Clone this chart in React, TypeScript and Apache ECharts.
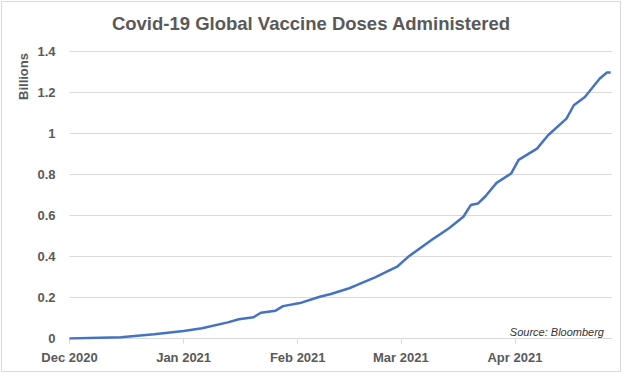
import React, { useEffect, useRef } from "react";
import * as echarts from "echarts";

const dates: string[] = [
  "2020-12-01", "2020-12-15", "2020-12-24", "2021-01-01", "2021-01-06",
  "2021-01-13", "2021-01-16", "2021-01-20", "2021-01-22", "2021-01-26",
  "2021-01-28", "2021-02-02", "2021-02-07", "2021-02-10", "2021-02-15",
  "2021-02-17", "2021-02-22", "2021-02-28", "2021-03-02", "2021-03-03",
  "2021-03-10", "2021-03-14", "2021-03-18", "2021-03-20", "2021-03-22",
  "2021-03-24", "2021-03-27", "2021-03-31", "2021-04-02", "2021-04-07",
  "2021-04-10", "2021-04-15", "2021-04-17", "2021-04-20", "2021-04-24",
  "2021-04-26", "2021-04-27",
];
const dosesBillions: number[] = [
  0, 0.006, 0.021, 0.037, 0.05,
  0.079, 0.094, 0.104, 0.126, 0.136,
  0.158, 0.175, 0.204, 0.217, 0.245,
  0.26, 0.298, 0.35, 0.382, 0.398,
  0.488, 0.536, 0.593, 0.65, 0.658,
  0.693, 0.758, 0.804, 0.87, 0.925,
  0.99, 1.071, 1.136, 1.176, 1.265,
  1.295, 1.295,
];
const monthTicks: string[] = ["2020-12-01", "2021-01-01", "2021-02-01", "2021-03-01", "2021-04-01"];
const monthNames: string[] = ["Jan", "Feb", "Mar", "Apr", "May", "Jun", "Jul", "Aug", "Sep", "Oct", "Nov", "Dec"];
const yTicks = { min: 0, max: 1.4, interval: 0.2 };
const titleText = "Covid-19 Global Vaccine Doses Administered";
const yName = "Billions";
const sourceText = "Source: Bloomberg";

const DAY = 24 * 3600 * 1000;
function toTime(s: string): number {
  const [y, m, d] = s.split("-").map(Number);
  return Date.UTC(y, m - 1, d);
}

export default function App() {
  const ref = useRef<HTMLDivElement>(null);
  useEffect(() => {
    if (!ref.current) return;
    const chart = echarts.init(ref.current, null, { renderer: "svg" });
    const font = "'Liberation Sans', Arial, sans-serif";
    const tickTimes = monthTicks.map(toTime);
    const axisMin = toTime("2020-12-01");
    const axisMax = toTime("2021-04-27") + 0.37 * DAY;
    chart.setOption({
      animation: false,
      backgroundColor: "#ffffff",
      textStyle: { fontFamily: font },
      grid: { left: 69.5, right: 12, top: 51, bottom: 35.4, containLabel: false },
      xAxis: {
        type: "value",
        min: axisMin,
        max: axisMax,
        axisLine: { show: true, onZero: false, lineStyle: { color: "#d9d9d9", width: 1 } },
        axisTick: {
          show: true,
          length: 5,
          lineStyle: { color: "#d9d9d9" },
          customValues: tickTimes,
        },
        axisLabel: {
          customValues: tickTimes,
          margin: 12,
          color: "#595959",
          fontSize: 13,
          fontWeight: "bold",
          fontFamily: font,
          hideOverlap: false,
          showMinLabel: true,
          formatter: (v: number) => {
            const d = new Date(v);
            return monthNames[d.getUTCMonth()] + " " + d.getUTCFullYear();
          },
        },
        splitLine: { show: false },
      },
      yAxis: {
        type: "value",
        min: yTicks.min,
        max: yTicks.max,
        interval: yTicks.interval,
        axisLine: { show: false },
        axisTick: { show: false },
        axisLabel: {
          margin: 14,
          color: "#595959",
          fontSize: 13,
          fontWeight: "bold",
          fontFamily: font,
          formatter: (v: number) => String(parseFloat(v.toFixed(1))),
        },
        splitLine: { show: true, lineStyle: { color: "#d9d9d9", width: 1 } },
      },
      series: [
        {
          type: "line",
          data: dates.map((d, i) => [toTime(d), dosesBillions[i]]),
          showSymbol: false,
          symbol: "none",
          smooth: false,
          lineStyle: { color: "#4472c4", width: 2.5 },
          itemStyle: { color: "#4472c4" },
        },
      ],
      graphic: [
        {
          type: "rect",
          shape: { x: 1.5, y: 1.5, width: 619, height: 370 },
          style: { fill: "none", stroke: "#d9d9d9", lineWidth: 1 },
          silent: true,
        },
        {
          type: "text",
          x: 311,
          y: 23.5,
          style: {
            text: titleText,
            fill: "#595959",
            font: `bold 18.5px ${font}`,
            align: "center",
            verticalAlign: "middle",
          },
        },
        {
          type: "text",
          x: 23.5,
          y: 76.5,
          rotation: Math.PI / 2,
          style: {
            text: yName,
            fill: "#595959",
            font: `bold 13px ${font}`,
            align: "center",
            verticalAlign: "middle",
          },
        },
        {
          type: "text",
          x: 604,
          y: 331.5,
          style: {
            text: sourceText,
            fill: "#333333",
            font: `italic 11px ${font}`,
            align: "right",
            verticalAlign: "middle",
          },
        },
      ],
    });
    return () => chart.dispose();
  }, []);
  return (
    <div
      ref={ref}
      style={{ position: "absolute", left: 0, top: 0, width: 624, height: 374 }}
    />
  );
}
